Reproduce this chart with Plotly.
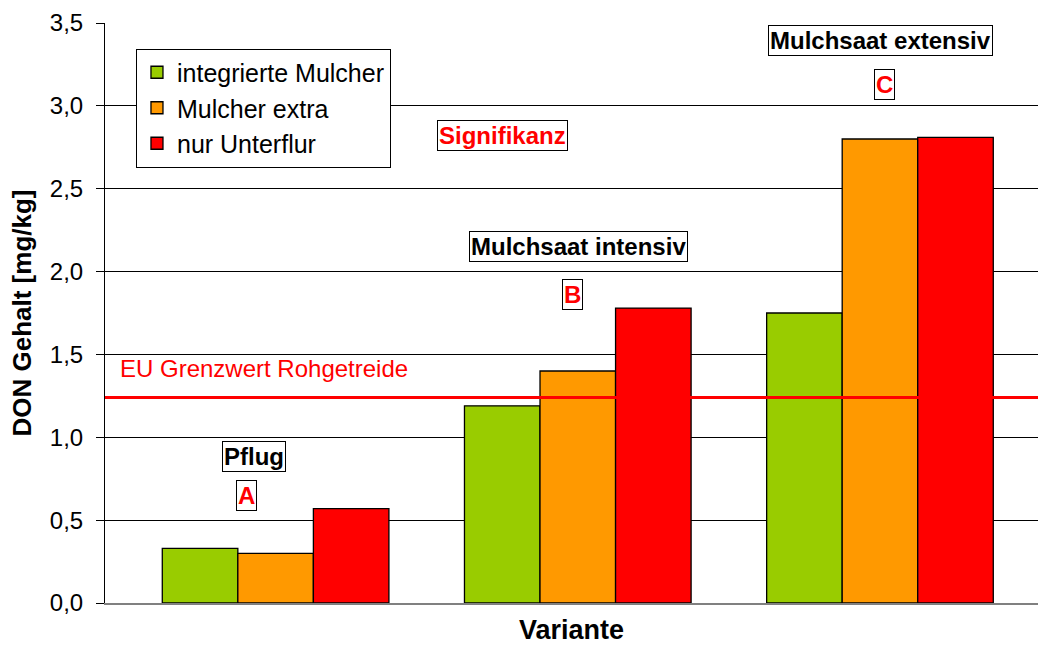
import plotly.graph_objects as go

# DON content per tillage variant and residue treatment
varianten = ["Pflug", "Mulchsaat intensiv", "Mulchsaat extensiv"]
signifikanz = ["A", "B", "C"]
serien = ["integrierte Mulcher", "Mulcher extra", "nur Unterflur"]
integrierte_mulcher = [0.33, 1.19, 1.75]
mulcher_extra = [0.30, 1.40, 2.80]
nur_unterflur = [0.57, 1.78, 2.81]
farben = ["#99CC00", "#FF9900", "#FF0000"]
eu_grenzwert = 1.24
y_ticks = [0.0, 0.5, 1.0, 1.5, 2.0, 2.5, 3.0, 3.5]

FONT = "Liberation Sans, Arial, sans-serif"

fig = go.Figure()
for name, werte, farbe in zip(serien, [integrierte_mulcher, mulcher_extra, nur_unterflur], farben):
    fig.add_trace(go.Bar(
        x=varianten, y=werte, name=name,
        marker=dict(color=farbe, line=dict(color="#000000", width=1.3)),
    ))

# EU limit line and its label
fig.add_shape(type="line", xref="paper", x0=0, x1=1, yref="y", y0=eu_grenzwert, y1=eu_grenzwert,
              line=dict(color="#FF0000", width=3), layer="above")
fig.add_annotation(x=-0.522, y=1.416, xref="x", yref="y", text="EU Grenzwert Rohgetreide",
                   showarrow=False, xanchor="left", yanchor="middle",
                   font=dict(family=FONT, size=24, color="#FF0000"))

# variant labels and significance letters
label_pos = [(-0.07, 0.885), (1.003, 2.153), (2.003, 3.393)]
letter_pos = [(-0.095, 0.65), (0.983, 1.863), (2.015, 3.127)]
for name, (lx, ly), buchst, (bx, by) in zip(varianten, label_pos, signifikanz, letter_pos):
    fig.add_annotation(x=lx, y=ly, xref="x", yref="y", text="<b>%s</b>" % name, showarrow=False,
                       font=dict(family=FONT, size=24, color="#000000"),
                       bgcolor="#FFFFFF", bordercolor="#000000", borderwidth=1, borderpad=1)
    fig.add_annotation(x=bx, y=by, xref="x", yref="y", text="<b>%s</b>" % buchst, showarrow=False,
                       font=dict(family=FONT, size=24, color="#FF0000"),
                       bgcolor="#FFFFFF", bordercolor="#000000", borderwidth=1, borderpad=1)

fig.add_annotation(x=0.75, y=2.822, xref="x", yref="y", text="<b>Signifikanz</b>", showarrow=False,
                   font=dict(family=FONT, size=24, color="#FF0000"),
                   bgcolor="#FFFFFF", bordercolor="#000000", borderwidth=1, borderpad=1)

fig.update_layout(
    width=1038, height=650,
    margin=dict(l=105, r=0, t=23, b=47),
    paper_bgcolor="#FFFFFF", plot_bgcolor="#FFFFFF",
    barmode="group", bargap=0.25, bargroupgap=0,
    separators=",.",
    font=dict(family=FONT, size=24, color="#000000"),
    showlegend=True,
    legend=dict(x=0.0332, y=0.956, xanchor="left", yanchor="top",
                bgcolor="#FFFFFF", bordercolor="#000000", borderwidth=1,
                itemwidth=30, tracegroupgap=0,
                font=dict(family=FONT, size=25, color="#000000")),
    xaxis=dict(range=[-0.5646, 2.523], showticklabels=False, ticks="",
               showline=True, linecolor="#808080", linewidth=2, showgrid=False, zeroline=False,
               title=dict(text="<b>Variante</b>", font=dict(family=FONT, size=27), standoff=16)),
    yaxis=dict(range=[0, 3.5], tickvals=y_ticks, tickformat=".1f",
               ticks="outside", ticklen=8, tickcolor="#000000", ticklabelstandoff=8,
               showline=True, linecolor="#000000", linewidth=1,
               showgrid=True, gridcolor="#000000", gridwidth=1, zeroline=False,
               tickfont=dict(family=FONT, size=24, color="#000000"),
               title=dict(text="<b>DON Gehalt [mg/kg]</b>", font=dict(family=FONT, size=26), standoff=10)),
)

fig.write_html("out.html")
